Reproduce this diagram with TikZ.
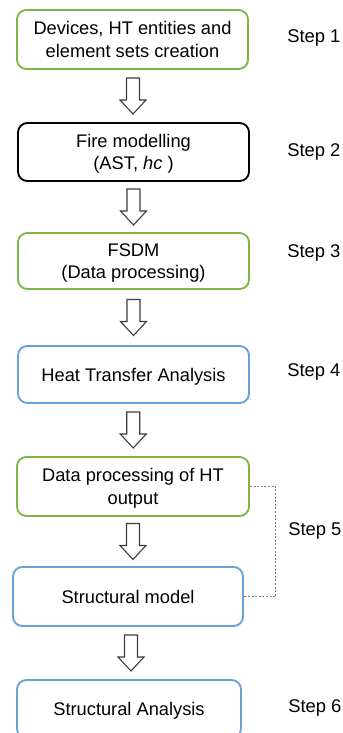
\documentclass[tikz,border=0pt]{standalone}
\usepackage{fontspec}
\setmainfont{Liberation Sans}
\usetikzlibrary{calc}
\definecolor{boxgreen}{RGB}{122,182,72}
\definecolor{boxblue}{RGB}{104,160,220}
\definecolor{arrowgray}{RGB}{60,60,60}
\begin{document}
\begin{tikzpicture}[x=0.75pt,y=-0.75pt,
  stepbox/.style={draw, line width=1.4pt, rounded corners=7pt, align=center,
     inner sep=0pt, font=\fontsize{13.7}{16.8}\selectfont, text depth=0pt},
  gbox/.style={stepbox, draw=boxgreen},
  bbox/.style={stepbox, draw=boxblue},
  kbox/.style={stepbox, draw=black},
  steplabel/.style={anchor=west, inner sep=0pt, font=\fontsize{13.8}{16.8}\selectfont},
  blockarrow/.pic={\draw[arrowgray, line width=0.8pt, fill=white, line join=miter]
     (-6.5,-18) -- (6.5,-18) -- (6.5,4) -- (13,4) -- (0,18) -- (-13,4) -- (-6.5,4) -- cycle;}
]
\useasboundingbox (0,0) rectangle (343,733);
\clip (0,0) rectangle (343,733);
\node[gbox, minimum width=231*0.75pt, minimum height=59*0.75pt] (b1) at (132.5,39.5) {Devices, HT entities and\\element sets creation};
\node[kbox, minimum width=231*0.75pt, minimum height=58*0.75pt] (b2) at (133.5,152) {Fire modelling\\(AST, \textit{hc} )};
\node[gbox, minimum width=231*0.75pt, minimum height=56*0.75pt] (b3) at (133.5,261) {FSDM\\(Data processing)};
\node[bbox, minimum width=231*0.75pt, minimum height=57*0.75pt] (b4) at (133.5,374.5) {Heat Transfer Analysis};
\node[gbox, minimum width=232*0.75pt, minimum height=59*0.75pt] (b5a) at (133,486.5) {Data processing of HT\\output};
\node[bbox, minimum width=230*0.75pt, minimum height=59*0.75pt] (b5b) at (128,596.5) {Structural model};
\node[bbox, minimum width=224*0.75pt, minimum height=58*0.75pt] (b6) at (129,709) {Structural Analysis};

\node[steplabel] (s1) at (287,38) {Step 1};
\node[steplabel] (s2) at (287,152) {Step 2};
\node[steplabel] (s3) at (287,253) {Step 3};
\node[steplabel] (s4) at (287,372) {Step 4};
\node[steplabel] (s5) at (288,531) {Step 5};
\node[steplabel] (s6) at (288,708) {Step 6};

\pic at ($(b1.south)!0.5!(b2.north)$) {blockarrow};
\pic at ($(b2.south)!0.5!(b3.north)$) {blockarrow};
\pic at ($(b3.south)!0.5!(b4.north)$) {blockarrow};
\pic at ($(b4.south)!0.5!(b5a.north)$) {blockarrow};
\pic at ($(b5a.south)!0.5!(b5b.north)+(2.5,0)$) {blockarrow};
\pic at ($(b5b.south)!0.5!(b6.north)+(2.5,0)$) {blockarrow};

\draw[gray, dash pattern=on 1.5pt off 1.2pt, line width=0.8pt] (b5a.east) -- ++(26,0) |- (b5b.east);
\end{tikzpicture}
\end{document}
